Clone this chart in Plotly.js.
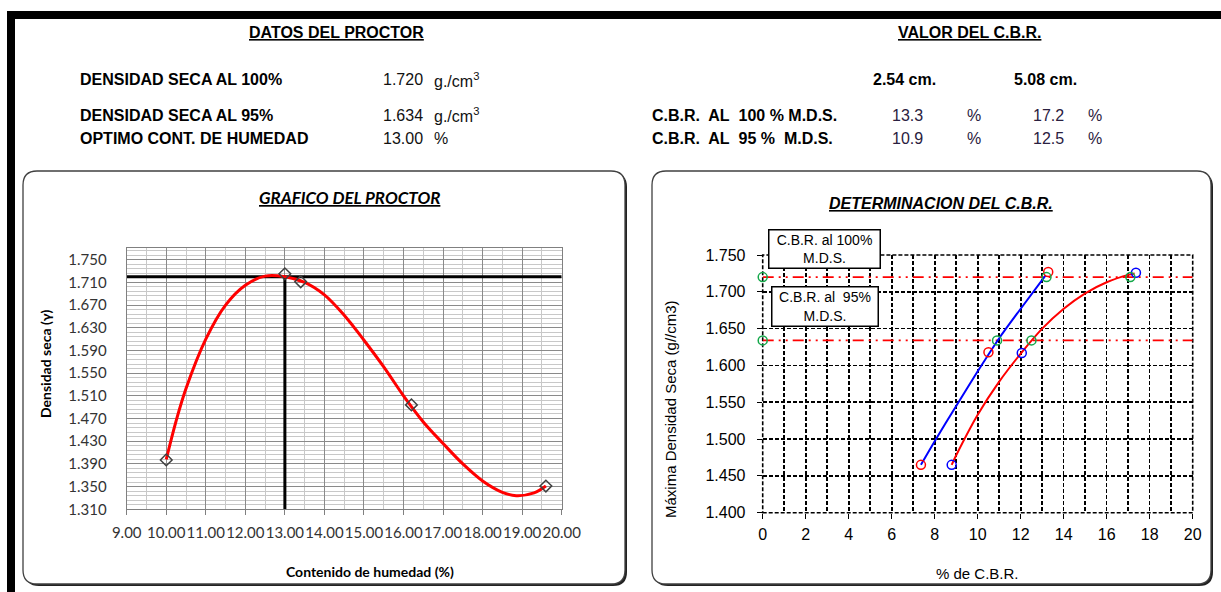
<!DOCTYPE html>
<html><head><meta charset="utf-8">
<script src="https://cdn.plot.ly/plotly-3.0.1.min.js"></script>
<style>html,body{margin:0;padding:0;background:#fff;} #chart{width:1221px;height:592px;}</style>
</head><body><div id="chart"></div>
<script>
// ---------- DATA ----------
// Proctor test points (humedad %, densidad seca)
const proctorHumedad = [10.0, 13.0, 13.4, 16.2, 19.6];
const proctorDensidad = [1.397, 1.725, 1.711, 1.494, 1.351];
// Proctor fitted curve
const curvaProctorX = [10.0, 10.25, 10.5, 11.0, 11.5, 12.0, 12.5, 13.0, 13.5, 14.0, 14.5, 15.0, 15.5, 16.0, 16.5, 17.0, 17.5, 18.0, 18.5, 18.85, 19.3, 19.6];
const curvaProctorY = [1.398, 1.466, 1.523, 1.610, 1.670, 1.705, 1.721, 1.720, 1.710, 1.688, 1.652, 1.608, 1.561, 1.510, 1.464, 1.426, 1.390, 1.360, 1.340, 1.334, 1.339, 1.351];
const densidadMax = 1.720;
const densidad95 = 1.634;
const humedadOptima = 13.00;

// CBR test points
const cbr254X = [7.36, 10.5, 13.28];
const cbr254Y = [1.465, 1.618, 1.727];
const cbr508X = [8.79, 12.05, 17.36];
const cbr508Y = [1.465, 1.617, 1.726];
// fitted lines
const ajuste254X = [7.36, 8.0, 9.0, 10.0, 11.0, 12.0, 13.15];
const ajuste254Y = [1.465, 1.497, 1.545, 1.592, 1.637, 1.677, 1.722];
const ajuste508X = [8.79, 9.0, 10.0, 11.0, 12.0, 13.0, 14.0, 15.0, 16.0, 17.0, 17.3];
const ajuste508Y = [1.465, 1.478, 1.533, 1.578, 1.616, 1.650, 1.677, 1.698, 1.713, 1.723, 1.725];
// intersection markers (green)
const cortesX = [0, 0, 10.9, 12.5, 13.2, 17.1];
const cortesY = [1.720, 1.634, 1.634, 1.634, 1.720, 1.720];

// header values
const cbrLabels = ["C.B.R.\u00a0 AL\u00a0 100 % M.D.S.", "C.B.R.\u00a0 AL\u00a0 95 %\u00a0 M.D.S."];
const cbr254 = ["13.3", "10.9"];
const cbr508 = ["17.2", "12.5"];
const proctorLabels = ["DENSIDAD SECA AL 100%", "DENSIDAD SECA AL 95%", "OPTIMO CONT. DE HUMEDAD"];
const proctorValues = ["1.720", "1.634", "13.00"];
const proctorUnits = ["g./cm<sup>3</sup>", "g./cm<sup>3</sup>", "%"];

// ---------- LAYOUT HELPERS ----------
const W = 1221, H = 592;
const px = x => x / W;
const py = y => 1 - y / H;
function rr(x0, y0, x1, y1, r) {
  return `M${px(x0 + r)},${py(y0)} L${px(x1 - r)},${py(y0)} Q${px(x1)},${py(y0)} ${px(x1)},${py(y0 + r)} ` +
    `L${px(x1)},${py(y1 - r)} Q${px(x1)},${py(y1)} ${px(x1 - r)},${py(y1)} L${px(x0 + r)},${py(y1)} ` +
    `Q${px(x0)},${py(y1)} ${px(x0)},${py(y1 - r)} L${px(x0)},${py(y0 + r)} Q${px(x0)},${py(y0)} ${px(x0 + r)},${py(y0)} Z`;
}
const ARIAL = "Liberation Sans, Arial, sans-serif";
const CAL = "Lato, Open Sans, sans-serif";
const DASHDOT = '11px,5px,2px,5px,2px,5px';
const GRIDDASH = '4px,2px';

const traces = [
  // left chart
  {x: [9, 20], y: [densidadMax, densidadMax], xaxis: 'x', yaxis: 'y', mode: 'lines', line: {color: '#000', width: 3}, hoverinfo: 'skip'},
  {x: [humedadOptima, humedadOptima], y: [1.31, densidadMax], xaxis: 'x', yaxis: 'y', mode: 'lines', line: {color: '#000', width: 3}, hoverinfo: 'skip'},
  {x: curvaProctorX, y: curvaProctorY, xaxis: 'x', yaxis: 'y', mode: 'lines', line: {color: '#ff0000', width: 3, shape: 'spline', smoothing: 1}},
  {x: proctorHumedad, y: proctorDensidad, xaxis: 'x', yaxis: 'y', mode: 'markers', marker: {symbol: 'diamond-open', size: 9, color: '#404040', line: {width: 1.5}}},
  // right chart
  {x: [0, 20], y: [densidadMax, densidadMax], xaxis: 'x2', yaxis: 'y2', mode: 'lines', line: {color: '#ff0000', width: 1.8, dash: DASHDOT}},
  {x: [0, 20], y: [densidad95, densidad95], xaxis: 'x2', yaxis: 'y2', mode: 'lines', line: {color: '#ff0000', width: 1.8, dash: DASHDOT}},
  {x: ajuste254X, y: ajuste254Y, xaxis: 'x2', yaxis: 'y2', mode: 'lines', line: {color: '#0000ff', width: 2, shape: 'spline', smoothing: 0.8}},
  {x: ajuste508X, y: ajuste508Y, xaxis: 'x2', yaxis: 'y2', mode: 'lines', line: {color: '#ff0000', width: 2, shape: 'spline', smoothing: 0.8}},
  {x: cbr254X, y: cbr254Y, xaxis: 'x2', yaxis: 'y2', mode: 'markers', marker: {symbol: 'circle-open', size: 9, color: '#ff0000', line: {width: 1.5}}, cliponaxis: false},
  {x: cbr508X, y: cbr508Y, xaxis: 'x2', yaxis: 'y2', mode: 'markers', marker: {symbol: 'circle-open', size: 9, color: '#0000ff', line: {width: 1.5}}, cliponaxis: false},
  {x: cortesX, y: cortesY, xaxis: 'x2', yaxis: 'y2', mode: 'markers', marker: {symbol: 'circle-open', size: 9, color: '#14a84a', line: {width: 1.5}}, cliponaxis: false}
];

const annotations = [];
function ann(x, y, text, opts) {
  annotations.push(Object.assign({xref: 'paper', yref: 'paper', x: px(x), y: py(y), text: text, showarrow: false,
    xanchor: 'center', yanchor: 'middle', font: {family: ARIAL, size: 16, color: '#000'}}, opts || {}));
}
// header left
ann(336, 32, '<b>DATOS DEL PROCTOR</b>', {font: {family: ARIAL, size: 16, color: '#000', lineposition: 'under'}});
const rowsY = [80, 115, 139];
proctorLabels.forEach((t, i) => ann(78, rowsY[i], '<b>' + t + '</b>', {xanchor: 'left'}));
proctorValues.forEach((t, i) => ann(425, rowsY[i], t, {xanchor: 'right', font: {family: ARIAL, size: 16, color: '#111'}}));
proctorUnits.forEach((t, i) => ann(432, rowsY[i], t, {xanchor: 'left', font: {family: ARIAL, size: 16, color: '#111'}}));
// header right
ann(969.5, 32, '<b>VALOR DEL C.B.R.</b>', {font: {family: ARIAL, size: 16, color: '#000', lineposition: 'under'}});
ann(904.5, 80, '<b>2.54 cm.</b>');
ann(1045.5, 80, '<b>5.08 cm.</b>');
cbrLabels.forEach((t, i) => ann(650, rowsY[i + 1], '<b>' + t + '</b>', {xanchor: 'left'}));
cbr254.forEach((t, i) => ann(907, rowsY[i + 1], t, {font: {family: ARIAL, size: 16, color: '#2a2040'}}));
cbr254.forEach((t, i) => ann(974, rowsY[i + 1], '%', {font: {family: ARIAL, size: 16, color: '#2a2040'}}));
cbr508.forEach((t, i) => ann(1048, rowsY[i + 1], t, {font: {family: ARIAL, size: 16, color: '#2a2040'}}));
cbr508.forEach((t, i) => ann(1094.5, rowsY[i + 1], '%', {font: {family: ARIAL, size: 16, color: '#2a2040'}}));
// left chart texts
ann(349, 198, '<b><i>GRAFICO DEL PROCTOR</i></b>', {font: {family: CAL, size: 17, color: '#000', lineposition: 'under'}});
ann(370, 571, '<b>Contenido de humedad (%)</b>', {font: {family: CAL, size: 14, color: '#000'}});
ann(45, 364, '<b>Densidad seca (γ)</b>', {textangle: -90, font: {family: CAL, size: 14, color: '#000'}});
// right chart texts
ann(940.5, 204, '<b><i>DETERMINACION DEL C.B.R.</i></b>', {font: {family: ARIAL, size: 16, color: '#000', lineposition: 'under'}});
ann(977.5, 573, '% de C.B.R.', {font: {family: ARIAL, size: 15, color: '#000'}});
ann(670, 409, 'Máxima Densidad Seca (g//cm3)', {textangle: -90, font: {family: ARIAL, size: 15, color: '#000'}});
ann(824.5, 249.5, 'C.B.R. al 100%<br>M.D.S.', {font: {family: ARIAL, size: 14, color: '#000'}, bgcolor: '#fff', bordercolor: '#000', borderwidth: 1.5, borderpad: 2, width: 106, height: 33});
ann(825.3, 306.7, 'C.B.R. al\u00a0 95%<br>M.D.S.', {font: {family: ARIAL, size: 14, color: '#000'}, bgcolor: '#fff', bordercolor: '#000', borderwidth: 1.5, borderpad: 2, width: 101, height: 34});

const shapes = [
  // page frame
  {type: 'rect', xref: 'paper', yref: 'paper', x0: px(7), x1: 1, y0: py(19), y1: py(11), fillcolor: '#000', line: {width: 0}, layer: 'below'},
  {type: 'rect', xref: 'paper', yref: 'paper', x0: px(7), x1: px(15), y0: 0, y1: py(11), fillcolor: '#000', line: {width: 0}, layer: 'below'},
  // panel shadows and panels
  {type: 'path', xref: 'paper', yref: 'paper', path: rr(25, 173, 627, 586, 14), fillcolor: '#222', line: {width: 0}, layer: 'below'},
  {type: 'path', xref: 'paper', yref: 'paper', path: rr(23, 171, 625, 584, 14), fillcolor: '#fff', line: {color: '#404040', width: 1.3}, layer: 'below'},
  {type: 'path', xref: 'paper', yref: 'paper', path: rr(654, 173, 1213, 586, 14), fillcolor: '#222', line: {width: 0}, layer: 'below'},
  {type: 'path', xref: 'paper', yref: 'paper', path: rr(652, 171, 1211, 584, 14), fillcolor: '#fff', line: {color: '#404040', width: 1.3}, layer: 'below'},
  // dashed frame of the CBR plot area
  {type: 'rect', xref: 'x2 domain', yref: 'y2 domain', x0: 0, x1: 1, y0: 0, y1: 1, line: {color: '#000', width: 1.6, dash: GRIDDASH}, layer: 'below'}
];

const layout = {
  width: W, height: H,
  margin: {l: 0, r: 0, t: 0, b: 0, pad: 0},
  paper_bgcolor: '#fff', plot_bgcolor: 'rgba(0,0,0,0)',
  showlegend: false,
  xaxis: {domain: [px(126.7), px(561.7)], anchor: 'y', range: [9, 20], tick0: 9, dtick: 1, tickformat: '.2f', tickangle: 0,
    showgrid: true, gridcolor: '#8a8a8a', gridwidth: 1, zeroline: false,
    minor: {dtick: 0.5, tick0: 9, showgrid: true, gridcolor: '#c8c8c8', gridwidth: 1, ticks: ''},
    showline: true, linecolor: '#808080', linewidth: 1, mirror: true,
    ticks: 'outside', ticklen: 5, tickcolor: '#808080', ticklabelstandoff: 5,
    tickfont: {family: CAL, size: 15, color: '#333'}, fixedrange: true},
  yaxis: {domain: [py(509.3), py(248.3)], anchor: 'x', range: [1.31, 1.77], tick0: 1.31, dtick: 0.04, tickformat: '.3f',
    showgrid: true, gridcolor: '#8a8a8a', gridwidth: 1, zeroline: false,
    minor: {dtick: 0.008, tick0: 1.31, showgrid: true, gridcolor: '#c8c8c8', gridwidth: 1, ticks: ''},
    showline: true, linecolor: '#808080', linewidth: 1, mirror: true,
    ticks: '', ticklabelstandoff: 16,
    tickfont: {family: CAL, size: 15, color: '#333'}, fixedrange: true},
  xaxis2: {domain: [px(762.7), px(1192.7)], anchor: 'y2', range: [0, 20], tick0: 0, dtick: 2, tickangle: 0,
    showgrid: true, gridcolor: '#000', gridwidth: 1.6, griddash: GRIDDASH, zeroline: false,
    minor: {dtick: 1, tick0: 0, showgrid: true, gridcolor: '#000', gridwidth: 1.6, griddash: GRIDDASH, ticks: ''},
    showline: false, ticks: 'outside', ticklen: 5, tickcolor: '#000', ticklabelstandoff: 2,
    tickfont: {family: ARIAL, size: 16, color: '#000'}, fixedrange: true},
  yaxis2: {domain: [py(512.7), py(255)], anchor: 'x2', range: [1.4, 1.75], tick0: 1.4, dtick: 0.05, tickformat: '.3f',
    showgrid: true, gridcolor: '#000', gridwidth: 1.6, griddash: GRIDDASH, zeroline: false,
    showline: false, ticks: 'outside', ticklen: 5, tickcolor: '#000', ticklabelstandoff: 8,
    tickfont: {family: ARIAL, size: 16, color: '#000'}, fixedrange: true},
  annotations: annotations,
  shapes: shapes
};

Plotly.newPlot('chart', traces, layout, {staticPlot: true, displayModeBar: false});
</script>
</body></html>
